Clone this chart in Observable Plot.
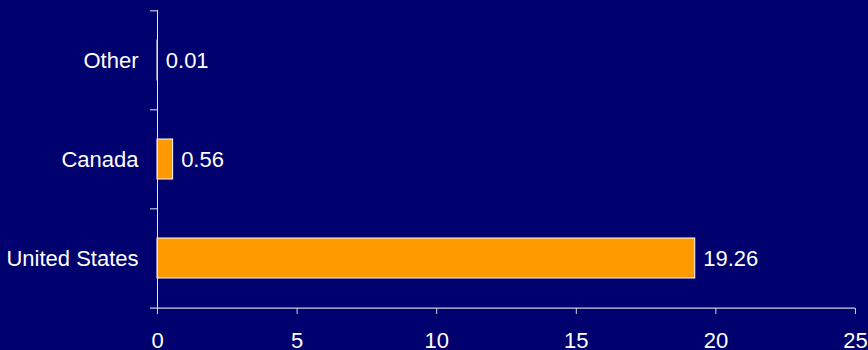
<!DOCTYPE html>
<html>
<head>
<meta charset="utf-8">
<script src="https://cdn.jsdelivr.net/npm/d3@7"></script>
<script src="https://cdn.jsdelivr.net/npm/@observablehq/plot@0.6"></script>
<style>
  html, body { margin: 0; padding: 0; background: #00006e; overflow: hidden; }
</style>
</head>
<body>
<div id="chart"></div>
<script>
// Categories top to bottom and their values
const countries = ["Other", "Canada", "United States"];
const values = [0.01, 0.56, 19.26];
const xTicks = [0, 5, 10, 15, 20, 25];

const data = countries.map((c, i) => ({country: c, value: values[i]}));

const marginTop = 10, marginBottom = 42, height = 350;
// band step, used to move the category tick marks to the band boundaries
const step = (height - marginTop - marginBottom) / countries.length;
const lastCountry = countries[countries.length - 1];

const chart = Plot.plot({
  width: 868,
  height,
  marginTop,
  marginBottom,
  marginLeft: 157,
  marginRight: 13,
  style: {
    background: "#00006e",
    color: "white",
    fontFamily: "'Liberation Sans', Arial, sans-serif",
    fontSize: "22px"
  },
  x: {domain: [0, 25], ticks: xTicks},
  y: {domain: countries, paddingInner: 0.6, paddingOuter: 0.3},
  marks: [
    Plot.barX(data, {x: "value", y: "country", fill: "#ff9900", stroke: "white", strokeWidth: 1}),
    Plot.text(data, {
      x: "value", y: "country",
      text: d => d.value.toFixed(2),
      textAnchor: "start", dx: 8, fill: "white", fontSize: 22
    }),
    // value axis line along the bottom edge of the last band, reaching left past the category axis
    Plot.ruleY([lastCountry], {y: d => d, x1: 0, x2: 25, dy: step / 2, insetLeft: -7, stroke: "#d0d0e0", strokeWidth: 1.2}),
    Plot.frame({anchor: "left", stroke: "#e8e8f4"}),
    Plot.axisY({tickSize: 0, tickPadding: 19, fontSize: 22, label: null}),
    // boundary ticks above each band
    Plot.axisY({tickSize: 7, text: null, dy: -step / 2, stroke: "#e8e8f4", label: null}),
    Plot.axisX({ticks: xTicks, tickSize: 6, tickPadding: 18, fontSize: 22, label: null, stroke: "#d0d0e0"})
  ]
});

document.getElementById("chart").appendChild(chart);
</script>
</body>
</html>
